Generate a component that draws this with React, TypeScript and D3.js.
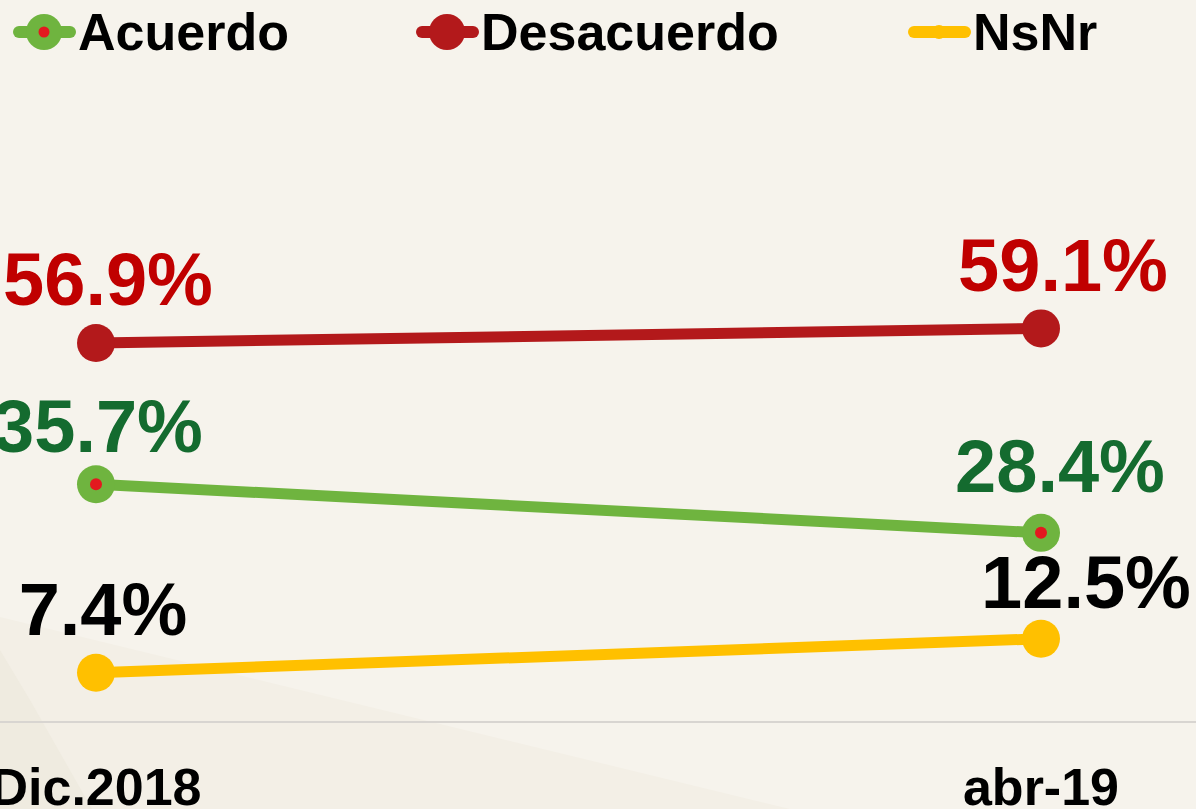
import React from "react";
import * as d3 from "d3";

const categories = ["Dic.2018", "abr-19"];
const seriesNames = ["Acuerdo", "Desacuerdo", "NsNr"];
const acuerdo = [35.7, 28.4];
const desacuerdo = [56.9, 59.1];
const nsnr = [7.4, 12.5];

const W = 1196;
const H = 809;
const FONT = "'Liberation Sans', Arial, Helvetica, sans-serif";

const seriesStyle = [
  { line: "#6fb43f", label: "#146b2f", inner: "#e3191f", r: 19, legendR: 18 },
  { line: "#b3191b", label: "#c00000", inner: null, r: 19, legendR: 18 },
  { line: "#ffc000", label: "#000000", inner: null, r: 19, legendR: 7 },
];
// label offsets (dx, dy) relative to each point
const labelOffsets = [
  [[2, -32], [19, -41]],
  [[12, -38], [22, -37]],
  [[7, -38], [45, -31]],
];
const legendX = [13, 416, 908];

export default function App() {
  const x = d3.scalePoint<string>().domain(categories).range([96, 1041]);
  const y = d3.scaleLinear().domain([0, 100]).range([722, 56]);
  const data = [acuerdo, desacuerdo, nsnr];
  const line = d3
    .line<number>()
    .x((_, i) => x(categories[i]) as number)
    .y((d) => y(d));

  return (
    <svg
      width={W}
      height={H}
      style={{ position: "absolute", left: 0, top: 0, display: "block" }}
      fontFamily={FONT}
    >
      <rect x={0} y={0} width={W} height={H} fill="#f6f3ec" />
      <polygon points={`0,617 790,${H} 0,${H}`} fill="#f3efe6" />
      <polygon points={`0,650 30,700 92,${H} 0,${H}`} fill="#efebe0" />

      {/* axis baseline */}
      <line x1={0} x2={W} y1={y(0)} y2={y(0)} stroke="#d8d5d1" strokeWidth={2} />

      {/* x labels */}
      {categories.map((c) => (
        <text
          key={c}
          x={x(c)}
          y={805}
          textAnchor="middle"
          fontSize={52}
          fontWeight="bold"
          fill="#000"
        >
          {c}
        </text>
      ))}

      {/* series */}
      {data.map((vals, si) => {
        const st = seriesStyle[si];
        return (
          <g key={seriesNames[si]}>
            <path d={line(vals) || ""} fill="none" stroke={st.line} strokeWidth={11} />
            {vals.map((v, i) => (
              <g key={i}>
                <circle cx={x(categories[i])} cy={y(v)} r={st.r} fill={st.line} />
                {st.inner && (
                  <circle cx={x(categories[i])} cy={y(v)} r={6} fill={st.inner} />
                )}
              </g>
            ))}
            {vals.map((v, i) => (
              <text
                key={"l" + i}
                x={(x(categories[i]) as number) + labelOffsets[si][i][0]}
                y={y(v) + labelOffsets[si][i][1]}
                textAnchor="middle"
                fontSize={74}
                fontWeight="bold"
                fill={st.label}
              >
                {v.toFixed(1) + "%"}
              </text>
            ))}
          </g>
        );
      })}

      {/* legend */}
      {seriesNames.map((name, si) => {
        const st = seriesStyle[si];
        const lx = legendX[si];
        const ly = 32;
        return (
          <g key={name}>
            <line
              x1={lx + 6}
              x2={lx + 57}
              y1={ly}
              y2={ly}
              stroke={st.line}
              strokeWidth={12}
              strokeLinecap="round"
            />
            <circle cx={lx + 31} cy={ly} r={st.legendR} fill={st.line} />
            {st.inner && <circle cx={lx + 31} cy={ly} r={5.5} fill={st.inner} />}
            <text x={lx + 65} y={50} fontSize={52} fontWeight="bold" fill="#000">
              {name}
            </text>
          </g>
        );
      })}
    </svg>
  );
}
